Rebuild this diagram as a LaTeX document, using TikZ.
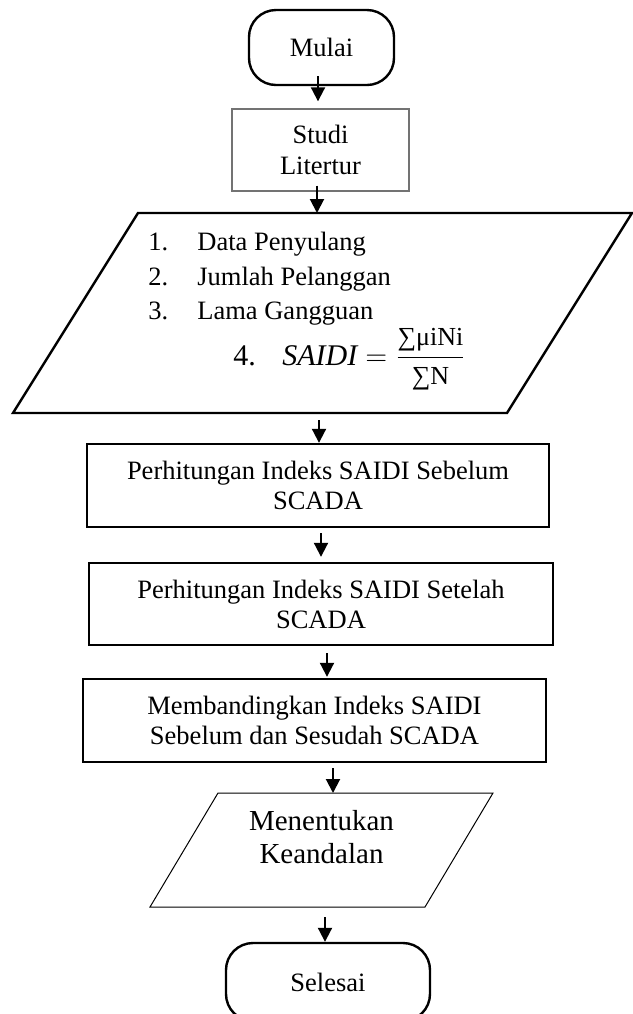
\documentclass[tikz,border=0pt]{standalone}
\usepackage{amsmath}
\usepackage{fontspec}
\setmainfont{Liberation Serif}
\usetikzlibrary{arrows.meta}

\begin{document}
\begin{tikzpicture}[x=0.5pt,y=-0.5pt,
    font=\fontsize{13.25pt}{15pt}\selectfont,
    terminal/.style={draw,line width=1.2pt,rounded corners=13.5pt,inner sep=0pt},
    procbox/.style={draw,line width=1.2pt,align=center,inner sep=0pt},
    iobox/.style={inner sep=0pt,outer sep=0pt},
    listitem/.style={anchor=base west,inner sep=0pt},
    arr/.style={-{Triangle[width=7pt,length=7pt]},line width=1pt}]
    \useasboundingbox (0,0) rectangle (633,1014);
    % start
    \node[terminal,minimum width=72.5pt,minimum height=37.5pt] (mulai) at (321.5,47.5) {Mulai};
    % literature study
    \node[procbox,draw=black!55,line width=0.7pt,minimum width=88.5pt,minimum height=41pt,
      font=\fontsize{13.25pt}{15.5pt}\selectfont] (studi) at (320.5,150) {Studi\\Litertur};
    % input data
    \node[iobox,minimum width=309.5pt,minimum height=100pt] (data) at (322.5,313) {};
    \draw[line width=1.2pt,line join=miter] (data.south west) -- ([xshift=62.5pt]data.north west)
      -- (data.north east) -- ([xshift=-62.5pt]data.south east) -- cycle;
    \node[listitem] (item1) at (148,250) {\makebox[24.5pt][l]{1.}Data Penyulang};
    \node[listitem] (item2) at (148,285) {\makebox[24.5pt][l]{2.}Jumlah Pelanggan};
    \node[listitem] (item3) at (148,319) {\makebox[24.5pt][l]{3.}Lama Gangguan};
    \node[listitem,font=\fontsize{15pt}{17pt}\selectfont] (item4) at (233,365)
      {\makebox[24.5pt][l]{4.}$\mathit{SAIDI}=
      \dfrac{\text{\fontsize{13pt}{13pt}\selectfont ∑μiNi}}{\text{\fontsize{13pt}{13pt}\selectfont ∑N}}$};
    % SAIDI calculations
    \node[procbox,minimum width=231pt,minimum height=41.5pt] (sebelum) at (318,485.5)
      {Perhitungan Indeks SAIDI Sebelum\\SCADA};
    \node[procbox,minimum width=232pt,minimum height=41pt] (setelah) at (321,604)
      {Perhitungan Indeks SAIDI Setelah\\SCADA};
    \node[procbox,minimum width=231.5pt,minimum height=41.5pt] (banding) at (314.5,720.5)
      {Membandingkan Indeks SAIDI\\Sebelum dan Sesudah SCADA};
    % reliability
    \node[iobox,minimum width=171.5pt,minimum height=57pt] (andal) at (321.5,850) {};
    \draw[line width=0.5pt] (andal.south west) -- ([xshift=34pt]andal.north west)
      -- (andal.north east) -- ([xshift=-34pt]andal.south east) -- cycle;
    \node[align=center,inner sep=0pt,font=\fontsize{14.5pt}{16.5pt}\selectfont] (andaltext) at (321.5,837)
      {Menentukan\\Keandalan};
    % end
    \node[terminal,minimum width=102pt,minimum height=39pt] (selesai) at (328,982) {Selesai};

    % arrows
    \draw[arr,shorten <=-5pt,shorten >=3.5pt] ([xshift=-1.75pt]mulai.south) -- ([xshift=-1.75pt]mulai.south |- studi.north);
    \draw[arr,shorten <=-3pt] ([xshift=-1.75pt]studi.south) -- ([xshift=-1.75pt]studi.south |- data.north);
    \draw[arr,shorten <=3.5pt] ([xshift=0.5pt]sebelum.north |- data.south) -- ([xshift=0.5pt]sebelum.north);
    \draw[arr,shorten <=2.5pt,shorten >=2.5pt] ([xshift=1.5pt]sebelum.south) -- ([xshift=1.5pt]sebelum.south |- setelah.north);
    \draw[arr,shorten <=3.5pt,shorten >=0.5pt] ([xshift=3pt]setelah.south) -- ([xshift=3pt]setelah.south |- banding.north);
    \draw[arr,shorten <=2.5pt] ([xshift=9.25pt]banding.south) -- ([xshift=9.25pt]banding.south |- andal.north);
    \draw[arr,shorten <=5pt] ([xshift=-1.5pt]selesai.north |- andal.south) -- ([xshift=-1.5pt]selesai.north);
\end{tikzpicture}
\end{document}
